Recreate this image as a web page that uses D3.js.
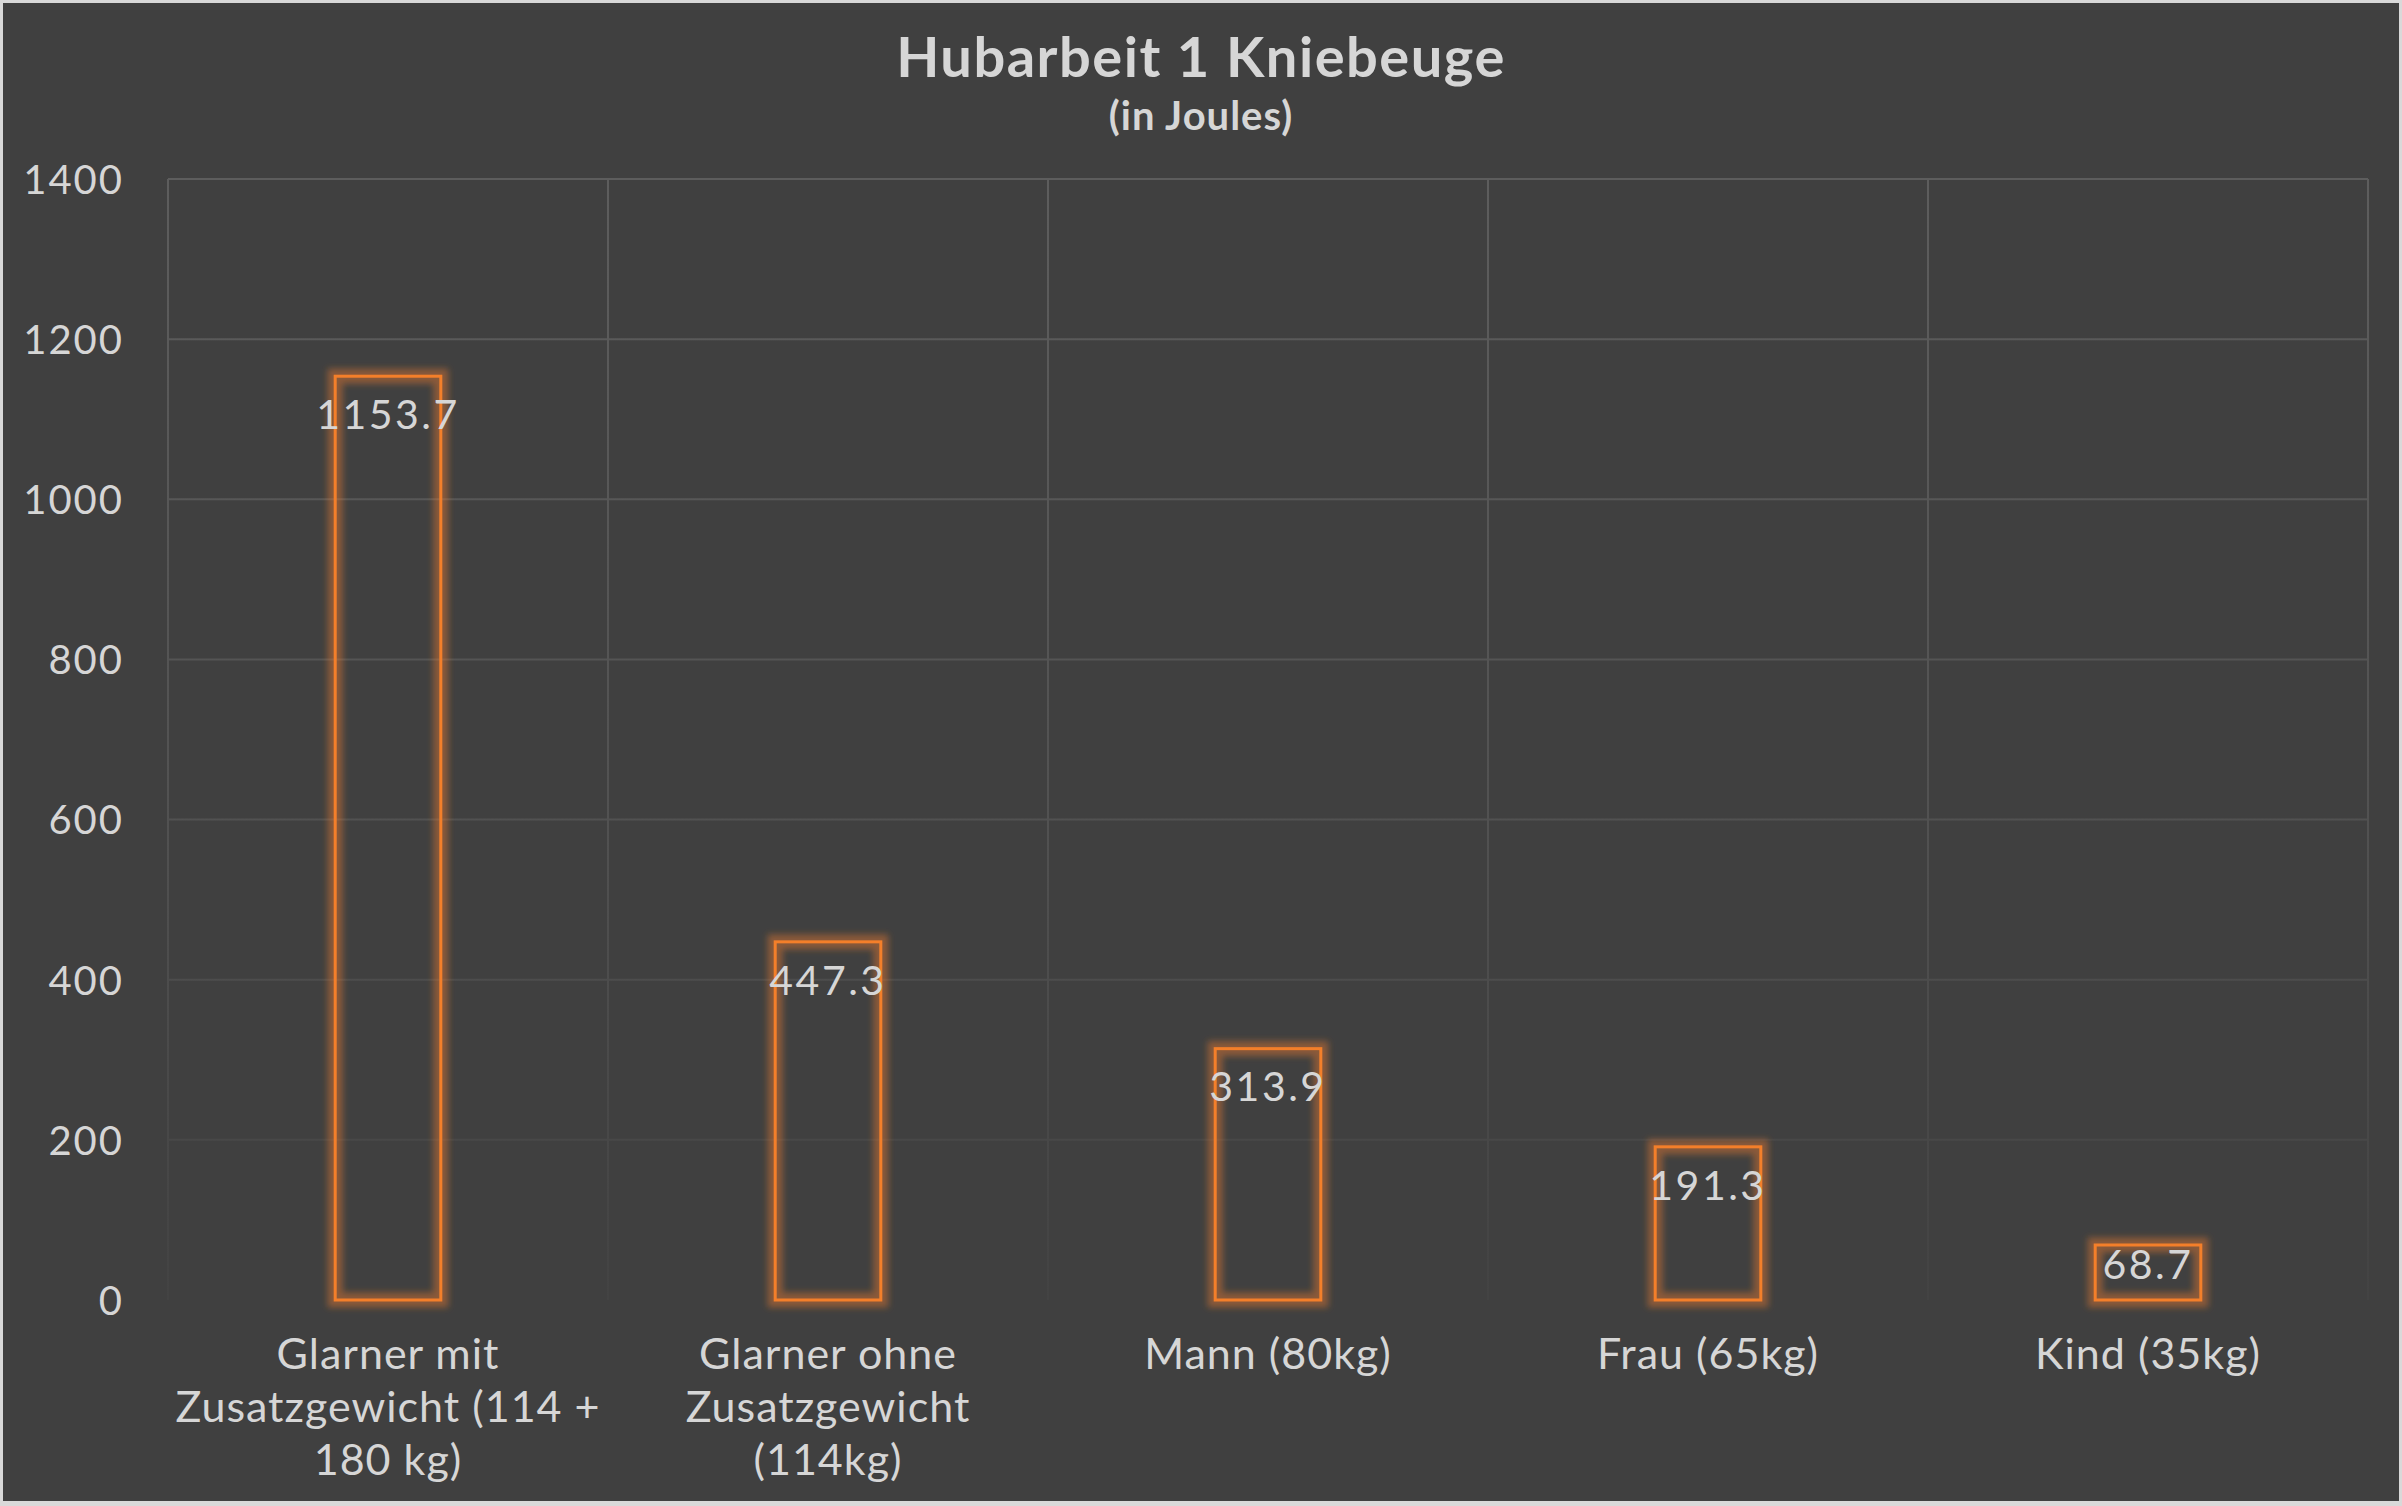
<!DOCTYPE html>
<html>
<head>
<meta charset="utf-8">
<script src="https://cdn.jsdelivr.net/npm/d3@7/dist/d3.min.js"></script>
<style>
  html, body { margin: 0; padding: 0; background: #d9d9d9; }
  svg { display: block; }
</style>
</head>
<body>
<svg id="chart" width="2402" height="1506"></svg>
<script>
// ---- data ----
const categories = [
  "Glarner mit\nZusatzgewicht (114 +\n180 kg)",
  "Glarner ohne\nZusatzgewicht\n(114kg)",
  "Mann (80kg)",
  "Frau (65kg)",
  "Kind (35kg)"
];
const values = [1153.7, 447.3, 313.9, 191.3, 68.7];
const valueLabels = ["1153.7", "447.3", "313.9", "191.3", "68.7"];
const yTicks = [0, 200, 400, 600, 800, 1000, 1200, 1400];
const titleText = "Hubarbeit 1 Kniebeuge";
const subtitleText = "(in Joules)";

// ---- layout ----
const W = 2402, H = 1506;
const plot = { left: 168, right: 2368, top: 179, bottom: 1300 };
const font = "Lato, 'Open Sans', sans-serif";
const textColor = "#d6d6d6";
const orange = "#f47f2a";

const svg = d3.select("#chart");
const defs = svg.append("defs");

const gridGrad = defs.append("linearGradient")
  .attr("id", "gridGrad").attr("gradientUnits", "userSpaceOnUse")
  .attr("x1", 0).attr("y1", plot.top).attr("x2", 0).attr("y2", plot.bottom);
gridGrad.append("stop").attr("offset", "0").attr("stop-color", "#5d5d5d");
gridGrad.append("stop").attr("offset", "0.55").attr("stop-color", "#525252");
gridGrad.append("stop").attr("offset", "1").attr("stop-color", "#434343");

const glow = defs.append("filter").attr("id", "glow")
  .attr("x", "-50%").attr("y", "-50%").attr("width", "200%").attr("height", "200%");
glow.append("feGaussianBlur").attr("stdDeviation", 3);

// background with light border
svg.append("rect").attr("x", 0).attr("y", 0).attr("width", W).attr("height", H).attr("fill", "#d9d9d9");
svg.append("rect").attr("x", 3).attr("y", 3).attr("width", W - 6).attr("height", H - 8).attr("fill", "#404040");

const x = d3.scaleBand().domain(categories).range([plot.left, plot.right]).padding(0);
const y = d3.scaleLinear().domain([0, 1400]).range([plot.bottom, plot.top]);
const barW = x.bandwidth() * 0.24;

// gridlines
const g = svg.append("g");
g.selectAll("line.h").data(yTicks.filter(t => t > 0)).enter().append("line")
  .attr("class", "h")
  .attr("x1", plot.left).attr("x2", plot.right)
  .attr("y1", d => y(d)).attr("y2", d => y(d))
  .attr("stroke", "url(#gridGrad)").attr("stroke-width", 2);
const vx = categories.map(c => x(c)).concat([plot.right]);
g.selectAll("line.v").data(vx).enter().append("line")
  .attr("class", "v")
  .attr("x1", d => d).attr("x2", d => d)
  .attr("y1", plot.top).attr("y2", y(0))
  .attr("stroke", "url(#gridGrad)").attr("stroke-width", 2);

// y axis labels
const yAxis = d3.axisLeft(y).tickValues(yTicks).tickSize(0).tickPadding(0).tickFormat(d3.format("d"));
const ya = svg.append("g").attr("transform", `translate(124,0)`).call(yAxis);
ya.select(".domain").remove();
ya.selectAll("text").attr("fill", textColor).attr("font-family", font)
  .attr("font-size", 40).attr("letter-spacing", 2).attr("dy", "0.36em");

// bars
const bars = svg.append("g").selectAll("g.bar").data(values).enter().append("g");
bars.append("rect")
  .attr("x", (d, i) => x(categories[i]) + x.bandwidth() / 2 - barW / 2)
  .attr("y", d => y(d))
  .attr("width", barW)
  .attr("height", d => y(0) - y(d))
  .attr("fill", "none").attr("stroke", orange).attr("stroke-opacity", 0.42)
  .attr("stroke-width", 15).attr("filter", "url(#glow)");
bars.append("rect")
  .attr("x", (d, i) => x(categories[i]) + x.bandwidth() / 2 - barW / 2)
  .attr("y", d => y(d))
  .attr("width", barW)
  .attr("height", d => y(0) - y(d))
  .attr("fill", "none").attr("stroke", orange).attr("stroke-width", 3);

// value labels (inside end; centred lower for very short bars)
const labelFs = 41;
svg.append("g").selectAll("text").data(values).enter().append("text")
  .attr("x", (d, i) => x(categories[i]) + x.bandwidth() / 2)
  .attr("y", d => Math.min(y(d) + 38, (y(d) + y(0)) / 2 - 8) + labelFs * 0.36)
  .attr("text-anchor", "middle")
  .attr("fill", textColor).attr("font-family", font).attr("font-size", labelFs)
  .attr("letter-spacing", 2.5)
  .text((d, i) => valueLabels[i]);

// category labels
const cl = svg.append("g").selectAll("text").data(categories).enter().append("text")
  .attr("text-anchor", "middle")
  .attr("fill", textColor).attr("font-family", font).attr("font-size", 43)
  .attr("letter-spacing", 1);
cl.each(function (c) {
  const t = d3.select(this);
  c.split("\n").forEach((line, k) => {
    t.append("tspan").attr("x", x(c) + x.bandwidth() / 2).attr("y", 1369 + k * 53).text(line);
  });
});

// title
svg.append("text").attr("x", W / 2).attr("y", 77).attr("text-anchor", "middle")
  .attr("fill", textColor).attr("font-family", font).attr("font-weight", "bold")
  .attr("font-size", 56).attr("letter-spacing", 1.5).text(titleText);
svg.append("text").attr("x", W / 2).attr("y", 130).attr("text-anchor", "middle")
  .attr("fill", textColor).attr("font-family", font).attr("font-weight", "bold")
  .attr("font-size", 40).attr("letter-spacing", 1).text(subtitleText);
</script>
</body>
</html>
